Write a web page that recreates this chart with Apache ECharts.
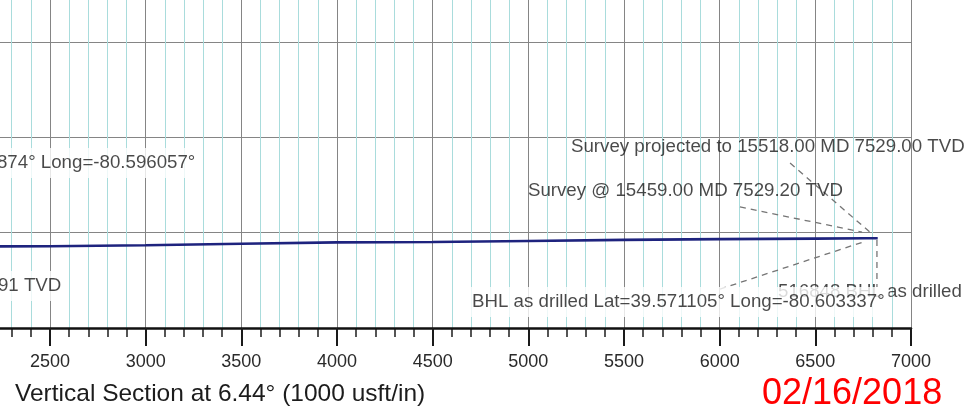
<!DOCTYPE html>
<html>
<head>
<meta charset="utf-8">
<script src="https://cdn.jsdelivr.net/npm/echarts@6/dist/echarts.min.js"></script>
<style>
html,body{margin:0;padding:0;background:#fff;}
#c{width:975px;height:412px;}
</style>
</head>
<body>
<div id="c"></div>
<script>
// Well path: vertical section (usft) vs true vertical depth (usft)
const sectionVS  = [2200, 2500, 3000, 3500, 4000, 4500, 5000, 5500, 6000, 6500, 6767, 6826];
const sectionTVD = [7572, 7571, 7566, 7558, 7551, 7549, 7544, 7538, 7534, 7531, 7529.2, 7529.0];

// Annotation texts and their anchors (data units)
const annoText = [
  'Survey projected to 15518.00 MD 7529.00 TVD',
  'Survey @ 15459.00 MD 7529.20 TVD',
  '874° Long=-80.596057°',
  '91 TVD',
  '516848 BHL as drilled',
  'BHL as drilled Lat=39.571105° Long=-80.603337°'
];
const annoVS  = [5223, 4998, 2202, 2207, 6305, 4685];
const annoTVD = [7051, 7281, 7135, 7780, 7811, 7864];
const annoBoxed = [false, false, true, true, false, true];

// Leader lines (data units)
const leaderFromVS  = [6368, 6106, 6002, 6822];
const leaderFromTVD = [7135, 7365, 7796, 7539];
const leaderToVS    = [6791, 6744, 6765, 6822];
const leaderToTVD   = [7502, 7497, 7544, 7785];

// Axis settings
const vsMin = 2000, vsMax = 7000;
const tvdMin = 6000, tvdMax = 8000;
const axisTitle = 'Vertical Section at 6.44° (1000 usft/in)';
const stampText = '02/16/2018';

const FONT = 'Liberation Sans, Arial, Helvetica, sans-serif';
const chart = echarts.init(document.getElementById('c'), null, {renderer: 'canvas'});

const series = [];
series.push({
  type: 'line',
  data: sectionVS.map((v, i) => [v, sectionTVD[i]]),
  symbol: 'none',
  lineStyle: {color: '#1e237e', width: 2.6},
  z: 5,
  silent: true
});
for (let i = 0; i < leaderFromVS.length; i++) {
  series.push({
    type: 'line',
    data: [[leaderFromVS[i], leaderFromTVD[i]], [leaderToVS[i], leaderToTVD[i]]],
    symbol: 'none',
    lineStyle: {color: '#757575', width: 1.3, type: [6, 5]},
    z: 4,
    silent: true
  });
}
for (let i = 0; i < annoText.length; i++) {
  series.push({
    type: 'scatter',
    data: [[annoVS[i], annoTVD[i]]],
    symbolSize: 0,
    itemStyle: {color: 'rgba(0,0,0,0)'},
    z: 10 + i,
    silent: true,
    label: {
      show: true,
      position: 'right',
      distance: 0,
      formatter: annoText[i],
      fontFamily: FONT,
      fontSize: 18.7,
      color: '#1c1c1c',
      backgroundColor: annoBoxed[i] ? '#ffffff' : 'transparent',
      padding: annoBoxed[i] ? [6, 4, 5, 4] : 0
    }
  });
}

chart.setOption({
  animation: false,
  backgroundColor: '#ffffff',
  grid: {left: -45.67, right: 64, top: -53.3, bottom: 84, containLabel: false, outerBoundsMode: 'none'},
  title: [
    {text: axisTitle, left: 10, top: 377,
     textStyle: {fontFamily: FONT, fontSize: 24.5, fontWeight: 'normal', color: '#1c1c1c'}},
    {text: stampText, left: 757, top: 371,
     textStyle: {fontFamily: FONT, fontSize: 36, fontWeight: 'normal', color: '#ff0000'}}
  ],
  xAxis: [
    { // minor grid + minor ticks
      type: 'value', min: vsMin, max: vsMax, interval: 100, position: 'bottom', z: 0,
      axisLine: {show: false},
      axisTick: {show: true, length: 9, lineStyle: {color: '#2a2a2a', width: 1.6}},
      axisLabel: {show: false},
      splitLine: {show: true, lineStyle: {color: '#a9dcdc', width: 1}}
    },
    { // major grid + labels
      type: 'value', min: vsMin, max: vsMax, interval: 500, position: 'bottom', z: 1,
      axisLine: {show: true, onZero: false, lineStyle: {color: '#111', width: 2.5}},
      axisTick: {show: true, length: 18, lineStyle: {color: '#1a1a1a', width: 2}},
      axisLabel: {show: true, margin: 25, fontFamily: FONT, fontSize: 18, color: '#2a2a2a',
                  formatter: v => String(v)},
      splitLine: {show: true, lineStyle: {color: '#858585', width: 1}}
    }
  ],
  yAxis: [{
    type: 'value', min: tvdMin, max: tvdMax, interval: 500, inverse: true,
    axisLine: {show: false}, axisTick: {show: false}, axisLabel: {show: false},
    splitLine: {show: true, lineStyle: {color: '#858585', width: 1}}
  }],
  series: series
});
</script>
</body>
</html>
